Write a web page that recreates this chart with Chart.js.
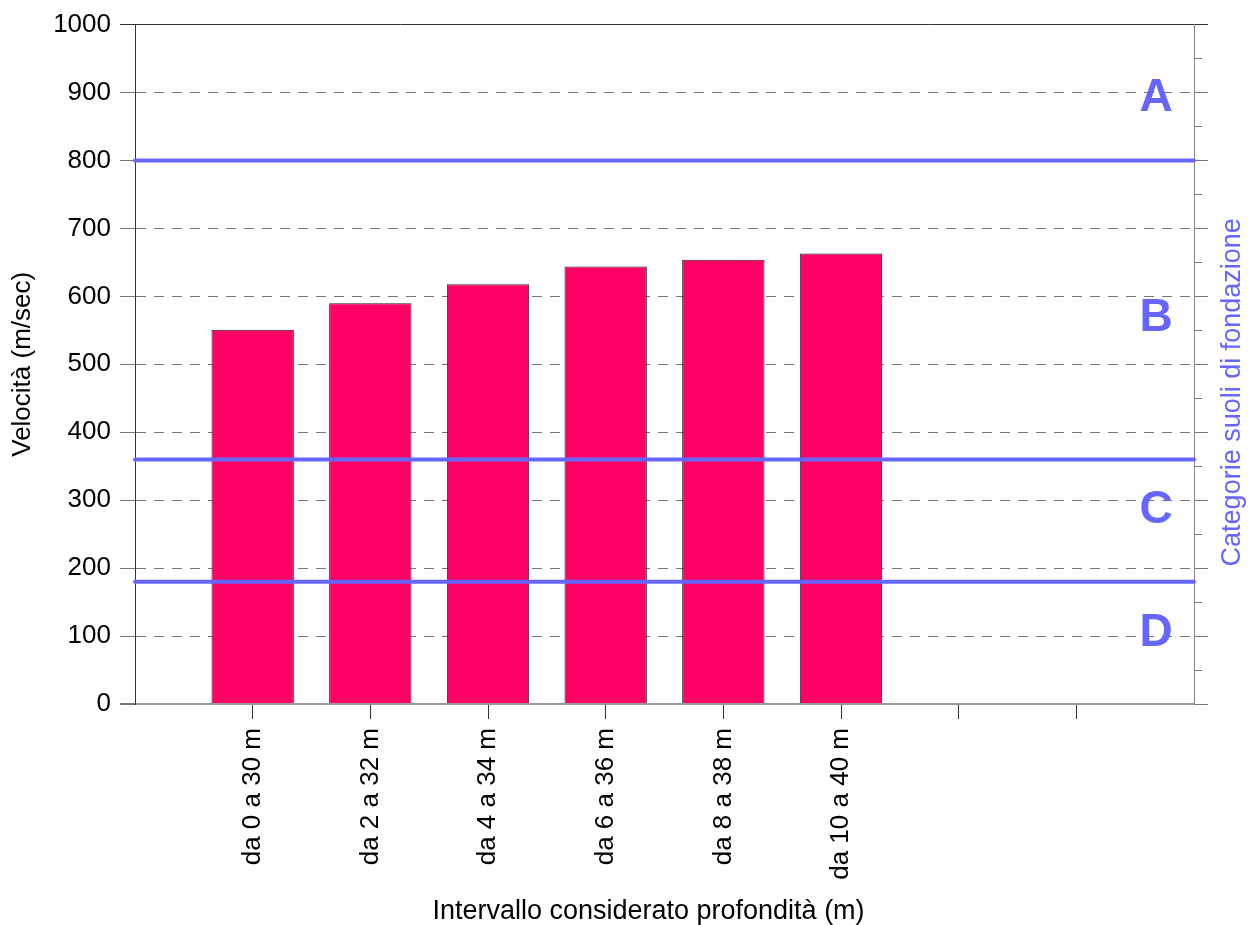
<!DOCTYPE html>
<html><head><meta charset="utf-8">
<script src="https://cdn.jsdelivr.net/npm/chart.js@4.4.1/dist/chart.umd.min.js"></script>
<style>html,body{margin:0;padding:0;background:#fff;} canvas{display:block;}</style>
</head><body>
<canvas id="c" width="1252" height="925"></canvas>
<script>
const categories = ['da 0 a 30 m','da 2 a 32 m','da 4 a 34 m','da 6 a 36 m','da 8 a 38 m','da 10 a 40 m'];
const velocities = [551, 590, 618, 644, 654, 663];
const leadingSlots = 1;
const trailingSlots = 3;
const categoryBounds = [800, 360, 180];
const categoryLetters = ['A','B','C','D'];
const categoryLetterLevels = [897, 573, 290, 110];
const xTitle = 'Intervallo considerato profondità (m)';
const yTitle = 'Velocità (m/sec)';
const y2Title = 'Categorie suoli di fondazione';

const labels = [...Array(leadingSlots).fill(''), ...categories, ...Array(trailingSlots).fill('')];
const values = [...Array(leadingSlots).fill(null), ...velocities, ...Array(trailingSlots).fill(null)];

const FONT = '"Liberation Sans", Arial, sans-serif';
Chart.defaults.font.family = FONT;
Chart.defaults.color = '#000';

const isMajor = c => c.tick && c.tick.value % 100 === 0;

const overlay = {
  id: 'overlay',
  afterDatasetsDraw(chart) {
    const {ctx, chartArea: a, scales: {x, y, y2}} = chart;
    ctx.save();
    ctx.strokeStyle = '#6666ff';
    ctx.lineWidth = 4;
    ctx.lineCap = 'round';
    categoryBounds.forEach(v => {
      const py = y.getPixelForValue(v);
      ctx.beginPath(); ctx.moveTo(a.left, py); ctx.lineTo(a.right, py); ctx.stroke();
    });
    ctx.fillStyle = '#6666ff';
    const ls = 46;
    ctx.font = 'bold ' + ls + 'px ' + FONT;
    ctx.textAlign = 'center';
    ctx.textBaseline = 'alphabetic';
    categoryLetters.forEach((t, i) => {
      const py = y.getPixelForValue(categoryLetterLevels[i]);
      ctx.fillText(t, a.right - 38, py + 0.358 * ls);
    });
    // x axis title
    ctx.fillStyle = '#000';
    ctx.font = '27px ' + FONT;
    ctx.textBaseline = 'middle';
    ctx.fillText(xTitle, (a.left + a.right) / 2 - 16, x.bottom - 13);
    // right axis title
    ctx.fillStyle = '#6666ff';
    ctx.font = '27px ' + FONT;
    ctx.translate(y2.right - 19, (a.top + a.bottom) / 2 + 28);
    ctx.rotate(-Math.PI / 2);
    ctx.fillText(y2Title, 0, 0);
    ctx.restore();
  }
};

new Chart(document.getElementById('c'), {
  type: 'bar',
  data: {
    labels: labels,
    datasets: [{
      data: values,
      backgroundColor: '#ff0066',
      borderColor: '#222',
      borderWidth: 1,
      barPercentage: 0.7,
      categoryPercentage: 1
    }]
  },
  options: {
    responsive: false,
    animation: false,
    layout: {padding: {top: 20, left: 0, right: 0, bottom: 0}},
    plugins: {legend: {display: false}, tooltip: {enabled: false}},
    scales: {
      x: {
        type: 'category',
        offset: false,
        grid: {
          offset: false, drawOnChartArea: false, drawTicks: true, tickLength: 15,
          tickColor: c => (c.index === 0 || c.index === labels.length - 1) ? 'rgba(0,0,0,0)' : '#333'
        },
        border: {display: false},
        ticks: {autoSkip: false, minRotation: 90, maxRotation: 90, padding: 9, color: '#000', font: {size: 26}},
        title: {display: false},
        afterFit: s => { s.height = 221; }
      },
      y: {
        position: 'left',
        min: 0, max: 1000,
        ticks: {stepSize: 50, padding: 9, color: '#000', font: {size: 26},
          callback: v => v % 100 === 0 ? String(v) : ''},
        grid: {
          color: c => {
            if (!c.tick) return '#777';
            const v = c.tick.value;
            if (v % 100 !== 0) return 'rgba(0,0,0,0)';
            if (v === 1000) return '#333';
            if (v === 0) return '#999';
            return '#777';
          },
          lineWidth: c => (c.tick && c.tick.value === 0) ? 2 : 1,
          tickLength: 15,
          tickColor: c => (c.tick && c.tick.value === 1000) ? '#333' : '#777',
          tickBorderDash: c => isMajor(c) || !c.tick ? [] : [7, 30]
        },
        border: {color: '#333', width: 1,
          dash: c => (c.tick && c.tick.value % 100 === 0 && c.tick.value !== 0 && c.tick.value !== 1000) ? [10, 8] : []},
        title: {display: true, text: yTitle, color: '#000', font: {size: 26, lineHeight: 1}, padding: {top: 10, bottom: 0}},
        afterFit: s => { s.width = 135; }
      },
      y2: {
        position: 'right',
        min: 0, max: 1000,
        ticks: {stepSize: 50, display: false},
        grid: {
          drawOnChartArea: false, tickLength: 14,
          tickColor: c => (c.tick && c.tick.value === 1000) ? '#333' : '#777',
          tickBorderDash: c => isMajor(c) || !c.tick ? [] : [7, 30]
        },
        border: {color: '#888', width: 1},
        afterFit: s => { s.width = 58; }
      }
    }
  },
  plugins: [overlay]
});
</script>
</body></html>
